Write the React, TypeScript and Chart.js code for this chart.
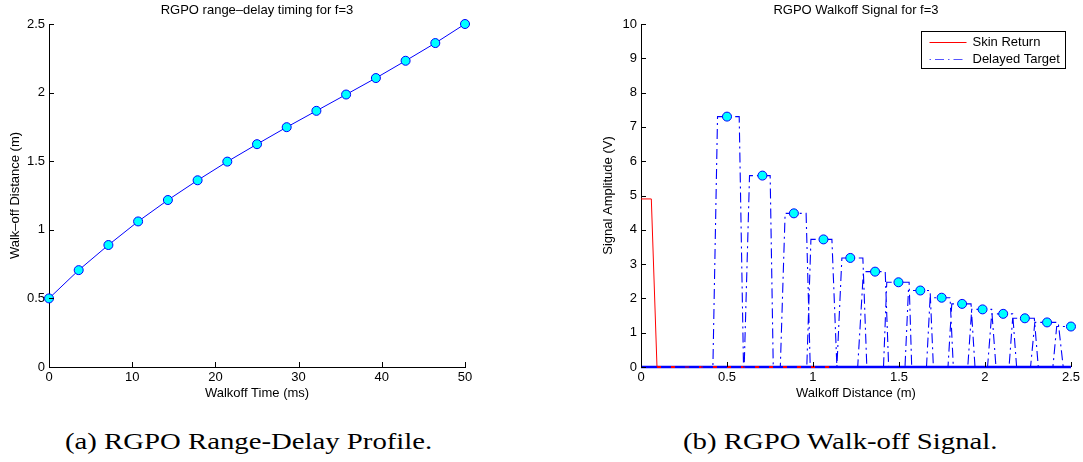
import React, { useEffect, useRef } from "react";
import { Chart, registerables } from "chart.js";

Chart.register(...registerables);

// ---------- Left chart: RGPO range-delay timing ----------
const walkoffTimeMs = [0, 3.57, 7.14, 10.71, 14.29, 17.86, 21.43, 25, 28.57, 32.14, 35.71, 39.29, 42.86, 46.43, 50];
const walkoffDistanceM = [0.5, 0.706, 0.889, 1.061, 1.217, 1.361, 1.497, 1.624, 1.748, 1.867, 1.986, 2.106, 2.232, 2.361, 2.5];
const leftXTicks = [0, 10, 20, 30, 40, 50];
const leftYTicks = [0, 0.5, 1, 1.5, 2, 2.5];

// ---------- Right chart: RGPO walkoff signal ----------
const targetPeakV = [7.3, 5.58, 4.48, 3.72, 3.18, 2.78, 2.47, 2.23, 2.02, 1.84, 1.68, 1.55, 1.42, 1.3, 1.18];
const pulseRiseStart = [0.418, 0.6, 0.81, 0.964, 1.139, 1.26, 1.41, 1.535, 1.66, 1.785, 1.9, 2.015, 2.14, 2.265, 2.395];
const pulseTopStart = [0.445, 0.631, 0.838, 0.988, 1.168, 1.293, 1.429, 1.555, 1.681, 1.807, 1.923, 2.039, 2.161, 2.29, 2.417];
const pulseTopEnd = [0.571, 0.751, 0.96, 1.11, 1.29, 1.42, 1.559, 1.681, 1.797, 1.919, 2.039, 2.161, 2.287, 2.426, 2.5];
const pulseFallEnd = [0.596, 0.769, 0.984, 1.139, 1.313, 1.44, 1.574, 1.7, 1.816, 1.942, 2.064, 2.184, 2.31, 2.455, 2.5];
const skinReturnX = [0, 0.06, 0.093, 1.1];
const skinReturnY = [4.9, 4.9, 0, 0];
const baselineX = [0, 2.5];
const baselineY = [0, 0];
const rightXTicks = [0, 0.5, 1, 1.5, 2, 2.5];
const rightYTicks = [0, 1, 2, 3, 4, 5, 6, 7, 8, 9, 10];
const legendLabels = ["Skin Return", "Delayed Target"];

const SANS = "'Liberation Sans', Arial, Helvetica, sans-serif";
const BLUE = "#0000ff";
const CYAN = "#00ffff";
const RED = "#ff0000";

const setTicks = (vals: number[]) => (scale: any) => {
  scale.ticks = vals.map((v) => ({ value: v }));
};

const inwardTicks = {
  id: "inwardTicks",
  afterDatasetsDraw(chart: any) {
    const { ctx, chartArea, scales } = chart;
    ctx.save();
    ctx.strokeStyle = "#000";
    ctx.lineWidth = 1;
    const len = 5;
    scales.x.ticks.forEach((t: any) => {
      const px = Math.round(scales.x.getPixelForValue(t.value)) + 0.5;
      ctx.beginPath();
      ctx.moveTo(px, chartArea.bottom);
      ctx.lineTo(px, chartArea.bottom - len);
      ctx.stroke();
    });
    scales.y.ticks.forEach((t: any) => {
      const py = Math.round(scales.y.getPixelForValue(t.value)) + 0.5;
      ctx.beginPath();
      ctx.moveTo(chartArea.left, py);
      ctx.lineTo(chartArea.left + len, py);
      ctx.stroke();
    });
    ctx.restore();
  },
};

const legendBox = {
  id: "legendBox",
  afterDraw(chart: any) {
    const { ctx, chartArea } = chart;
    const w = 144;
    const h = 37;
    const x0 = Math.round(chartArea.right - 6 - w) + 0.5;
    const y0 = Math.round(chartArea.top + 6.5) + 0.5;
    ctx.save();
    ctx.fillStyle = "#fff";
    ctx.fillRect(x0, y0, w, h);
    ctx.strokeStyle = "#000";
    ctx.lineWidth = 1;
    ctx.strokeRect(x0, y0, w, h);
    const rows = [y0 + 10, y0 + 27.5];
    ctx.strokeStyle = RED;
    ctx.setLineDash([]);
    ctx.beginPath();
    ctx.moveTo(x0 + 8, Math.round(rows[0]) + 0.5);
    ctx.lineTo(x0 + 45, Math.round(rows[0]) + 0.5);
    ctx.stroke();
    ctx.strokeStyle = "#5555ff";
    ctx.setLineDash([1.5, 4, 9, 4]);
    ctx.beginPath();
    ctx.moveTo(x0 + 8, Math.round(rows[1]) + 0.5);
    ctx.lineTo(x0 + 45, Math.round(rows[1]) + 0.5);
    ctx.stroke();
    ctx.setLineDash([]);
    ctx.fillStyle = "#000";
    ctx.font = `13px ${SANS}`;
    ctx.textBaseline = "middle";
    ctx.textAlign = "left";
    ctx.fillText(legendLabels[0], x0 + 51, rows[0] + 0.5);
    ctx.fillText(legendLabels[1], x0 + 51, rows[1] + 0.5);
    ctx.restore();
  },
};

function axisOpts(
  min: number,
  max: number,
  ticks: number[],
  title: string,
  isY: boolean,
  size: number,
  titlePad: any
) {
  return {
    type: "linear",
    min,
    max,
    afterBuildTicks: setTicks(ticks),
    afterFit: (s: any) => {
      if (isY) s.width = size;
      else s.height = size;
    },
    grid: { display: false, drawTicks: false, tickLength: 0 },
    border: { display: true, color: "#000", width: 1 },
    ticks: {
      color: "#000",
      font: { size: 13, family: SANS },
      padding: isY ? 4 : 3,
      maxRotation: 0,
      autoSkip: false,
      callback: (v: any) => String(v),
    },
    title: {
      display: true,
      text: title,
      color: "#000",
      font: { size: 13, family: SANS },
      padding: titlePad,
    },
  };
}

function leftConfig(): any {
  return {
    type: "scatter",
    data: {
      datasets: [
        {
          data: walkoffTimeMs.map((t, i) => ({ x: t, y: walkoffDistanceM[i] })),
          showLine: true,
          borderColor: BLUE,
          borderWidth: 1,
          pointRadius: 4.5,
          pointBackgroundColor: CYAN,
          pointBorderColor: BLUE,
          pointBorderWidth: 1,
          clip: false,
        },
      ],
    },
    options: {
      responsive: false,
      maintainAspectRatio: false,
      animation: false,
      events: [],
      layout: { padding: { top: 24, right: 75, bottom: 0, left: 0 } },
      plugins: { legend: { display: false }, tooltip: { enabled: false } },
      scales: {
        x: axisOpts(0, 50, leftXTicks, "Walkoff Time (ms)", false, 33, { top: 0, bottom: -1 }),
        y: axisOpts(0, 2.5, leftYTicks, "Walk–off Distance (m)", true, 49, { top: 8, bottom: 0 }),
      },
    },
    plugins: [inwardTicks],
  };
}

function buildPulses() {
  const pts: { x: number; y: number }[] = [{ x: 0, y: 0 }];
  targetPeakV.forEach((v, i) => {
    pts.push({ x: pulseRiseStart[i], y: 0 });
    pts.push({ x: pulseTopStart[i], y: v });
    pts.push({ x: pulseTopEnd[i], y: v });
    if (pulseFallEnd[i] > pulseTopEnd[i]) pts.push({ x: pulseFallEnd[i], y: 0 });
  });
  return pts;
}

function rightConfig(): any {
  return {
    type: "scatter",
    data: {
      datasets: [
        {
          label: "markers",
          data: walkoffDistanceM.map((x, i) => ({ x, y: targetPeakV[i] })),
          showLine: false,
          pointRadius: 4.5,
          pointBackgroundColor: CYAN,
          pointBorderColor: BLUE,
          pointBorderWidth: 1,
          clip: false,
          order: 0,
        },
        {
          label: legendLabels[1],
          data: buildPulses(),
          showLine: true,
          borderColor: BLUE,
          borderWidth: 1.1,
          borderDash: [10, 4, 2, 4],
          pointRadius: 0,
          clip: false,
          order: 1,
        },
        {
          label: legendLabels[0],
          data: skinReturnX.map((x, i) => ({ x, y: skinReturnY[i] })),
          showLine: true,
          borderColor: RED,
          borderWidth: 1,
          pointRadius: 0,
          clip: false,
          order: 2,
          segment: {
            borderDash: (ctx: any) =>
              ctx.p0.parsed.y === 0 && ctx.p1.parsed.y === 0 ? [4, 10] : undefined,
            borderWidth: (ctx: any) =>
              ctx.p0.parsed.y === 0 && ctx.p1.parsed.y === 0 ? 2 : undefined,
          },
        },
        {
          label: "baseline",
          data: baselineX.map((x, i) => ({ x, y: baselineY[i] })),
          showLine: true,
          borderColor: BLUE,
          borderWidth: 2.5,
          pointRadius: 0,
          clip: false,
          order: 3,
        },
      ],
    },
    options: {
      responsive: false,
      maintainAspectRatio: false,
      animation: false,
      events: [],
      layout: { padding: { top: 24, right: 12, bottom: 0, left: 0 } },
      plugins: { legend: { display: false }, tooltip: { enabled: false } },
      scales: {
        x: axisOpts(0, 2.5, rightXTicks, "Walkoff Distance (m)", false, 33, { top: 0, bottom: -1 }),
        y: axisOpts(0, 10, rightYTicks, "Signal Amplitude (V)", true, 51, { top: 11, bottom: 0 }),
      },
    },
    plugins: [inwardTicks, legendBox],
  };
}

function ChartCanvas(props: { make: () => any; left: number; top: number; width: number; height: number }) {
  const ref = useRef<HTMLCanvasElement>(null);
  useEffect(() => {
    const chart = new Chart(ref.current as HTMLCanvasElement, props.make());
    return () => chart.destroy();
  }, []);
  return (
    <canvas
      ref={ref}
      width={props.width}
      height={props.height}
      style={{ position: "absolute", left: props.left, top: props.top, width: props.width, height: props.height }}
    />
  );
}

const titleStyle = (center: number): React.CSSProperties => ({
  position: "absolute",
  left: center - 200,
  width: 400,
  top: 2,
  textAlign: "center",
  font: `13px ${SANS}`,
  lineHeight: "15px",
  color: "#000",
  whiteSpace: "nowrap",
});

const captionStyle = (left: number): React.CSSProperties => ({
  position: "absolute",
  left,
  top: 429,
  font: "23px 'Liberation Serif', 'Times New Roman', serif",
  lineHeight: "26px",
  color: "#000",
  whiteSpace: "nowrap",
  transform: "scaleX(1.25)",
  transformOrigin: "0 50%",
});

export default function App() {
  return (
    <div
      style={{
        position: "fixed",
        left: 0,
        top: 0,
        width: 1083,
        height: 462,
        background: "#fff",
        overflow: "hidden",
      }}
    >
      <ChartCanvas make={leftConfig} left={0} top={0} width={540} height={400} />
      <ChartCanvas make={rightConfig} left={590} top={0} width={493} height={400} />
      <div style={titleStyle(257)}>RGPO range–delay timing for f=3</div>
      <div style={titleStyle(856)}>RGPO Walkoff Signal for f=3</div>
      <div style={captionStyle(65)}>(a) RGPO Range-Delay Profile.</div>
      <div style={captionStyle(683)}>(b) RGPO Walk-off Signal.</div>
    </div>
  );
}
